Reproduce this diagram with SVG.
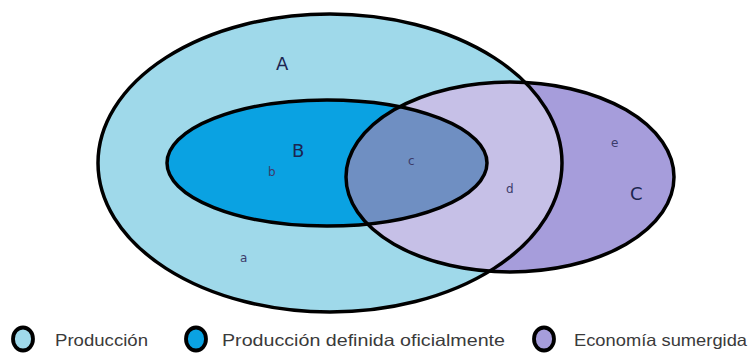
<svg xmlns="http://www.w3.org/2000/svg" width="754" height="355" viewBox="0 0 754 355">
<style>
.ol{fill:none;stroke:#000;stroke-width:3.5}
.big{font-family:"DejaVu Sans",sans-serif;font-size:18px;fill:#1c2550}
.sm{font-family:"DejaVu Sans",sans-serif;font-size:12px;fill:#3c3c6a}
.lg{font-family:"Liberation Sans",sans-serif;font-size:16.5px;fill:#3a3a3a}
.lc{stroke:#000;stroke-width:3.8}
</style>
<defs>
<clipPath id="clipC"><ellipse cx="510" cy="177" rx="164" ry="95"/></clipPath>
</defs>
<g id="nodeA">
<ellipse cx="330" cy="163" rx="232" ry="149" fill="#9fd9ea"/>
</g>
<g id="nodeC">
<ellipse cx="510" cy="177" rx="164" ry="95" fill="#a69ddb"/>
<ellipse cx="330" cy="163" rx="232" ry="149" fill="#c6c0e7" clip-path="url(#clipC)"/>
</g>
<g id="nodeB">
<ellipse cx="327" cy="163" rx="160" ry="63" fill="#0aa2e2"/>
<ellipse cx="327" cy="163" rx="160" ry="63" fill="#6f8fc2" clip-path="url(#clipC)"/>
</g>
<g id="outlines">
<ellipse class="ol" cx="330" cy="163" rx="232" ry="149"/>
<ellipse class="ol" cx="510" cy="177" rx="164" ry="95"/>
<ellipse class="ol" cx="327" cy="163" rx="160" ry="63"/>
</g>
<g id="labels">
<text class="big" x="276" y="70">A</text>
<text class="big" x="292" y="157">B</text>
<text class="big" x="630" y="200">C</text>
<text class="sm" x="240" y="262">a</text>
<text class="sm" x="268" y="176">b</text>
<text class="sm" x="408" y="165">c</text>
<text class="sm" x="506" y="193">d</text>
<text class="sm" x="611" y="147">e</text>
</g>
<g id="legend">
<g id="leg1"><ellipse class="lc" cx="23" cy="339" rx="10" ry="11.5" fill="#9fd9ea"/>
<text class="lg" x="55" y="346" textLength="93" lengthAdjust="spacingAndGlyphs">Producción</text></g>
<g id="leg2"><ellipse class="lc" cx="196" cy="339" rx="10" ry="11.5" fill="#0aa2e2"/>
<text class="lg" x="222" y="346" textLength="283" lengthAdjust="spacingAndGlyphs">Producción definida oficialmente</text></g>
<g id="leg3"><ellipse class="lc" cx="544" cy="339" rx="10" ry="11.5" fill="#a69ddb"/>
<text class="lg" x="574" y="346" textLength="173" lengthAdjust="spacingAndGlyphs">Economía sumergida</text></g>
</g>
</svg>
